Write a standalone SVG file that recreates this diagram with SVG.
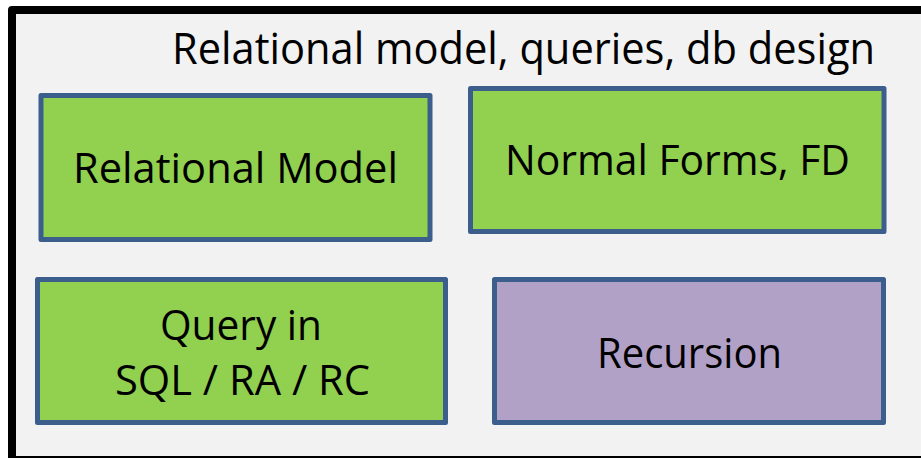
<svg xmlns="http://www.w3.org/2000/svg" width="921" height="458" viewBox="0 0 921 458">
<style>
.frame{fill:#f2f2f2;stroke:#000;stroke-width:8;stroke-linejoin:round}
.box{stroke:#3b5e8c;stroke-width:5;stroke-linejoin:round}
.green{fill:#92d050}
.purple{fill:#b2a1c7}
.t{font-family:"Open Sans","Noto Sans",sans-serif;font-size:42px;fill:#000;text-anchor:middle}
</style>
<rect class="frame" x="12" y="10" width="920" height="450"/>
<text class="t" x="523.5" y="64" textLength="703" lengthAdjust="spacingAndGlyphs" style="font-size:43px">Relational model, queries, db design</text>
<g id="node-relational-model">
<rect class="box green" x="41" y="95.5" width="389" height="144"/>
<text class="t" x="235.5" y="183" textLength="325" lengthAdjust="spacingAndGlyphs">Relational Model</text>
</g>
<g id="node-normal-forms">
<rect class="box green" x="470.5" y="88.5" width="413.5" height="143"/>
<text class="t" x="677.5" y="175" textLength="345" lengthAdjust="spacingAndGlyphs">Normal Forms, FD</text>
</g>
<g id="node-query">
<rect class="box green" x="37.5" y="279.5" width="408" height="143"/>
<text class="t" x="241" y="340" textLength="162" lengthAdjust="spacingAndGlyphs">Query in</text>
<text class="t" x="242.5" y="395" textLength="255" lengthAdjust="spacingAndGlyphs">SQL / RA / RC</text>
</g>
<g id="node-recursion">
<rect class="box purple" x="494.5" y="279.5" width="389" height="143"/>
<text class="t" x="689.5" y="368" textLength="185" lengthAdjust="spacingAndGlyphs">Recursion</text>
</g>
<g id="connectors"></g>
</svg>
